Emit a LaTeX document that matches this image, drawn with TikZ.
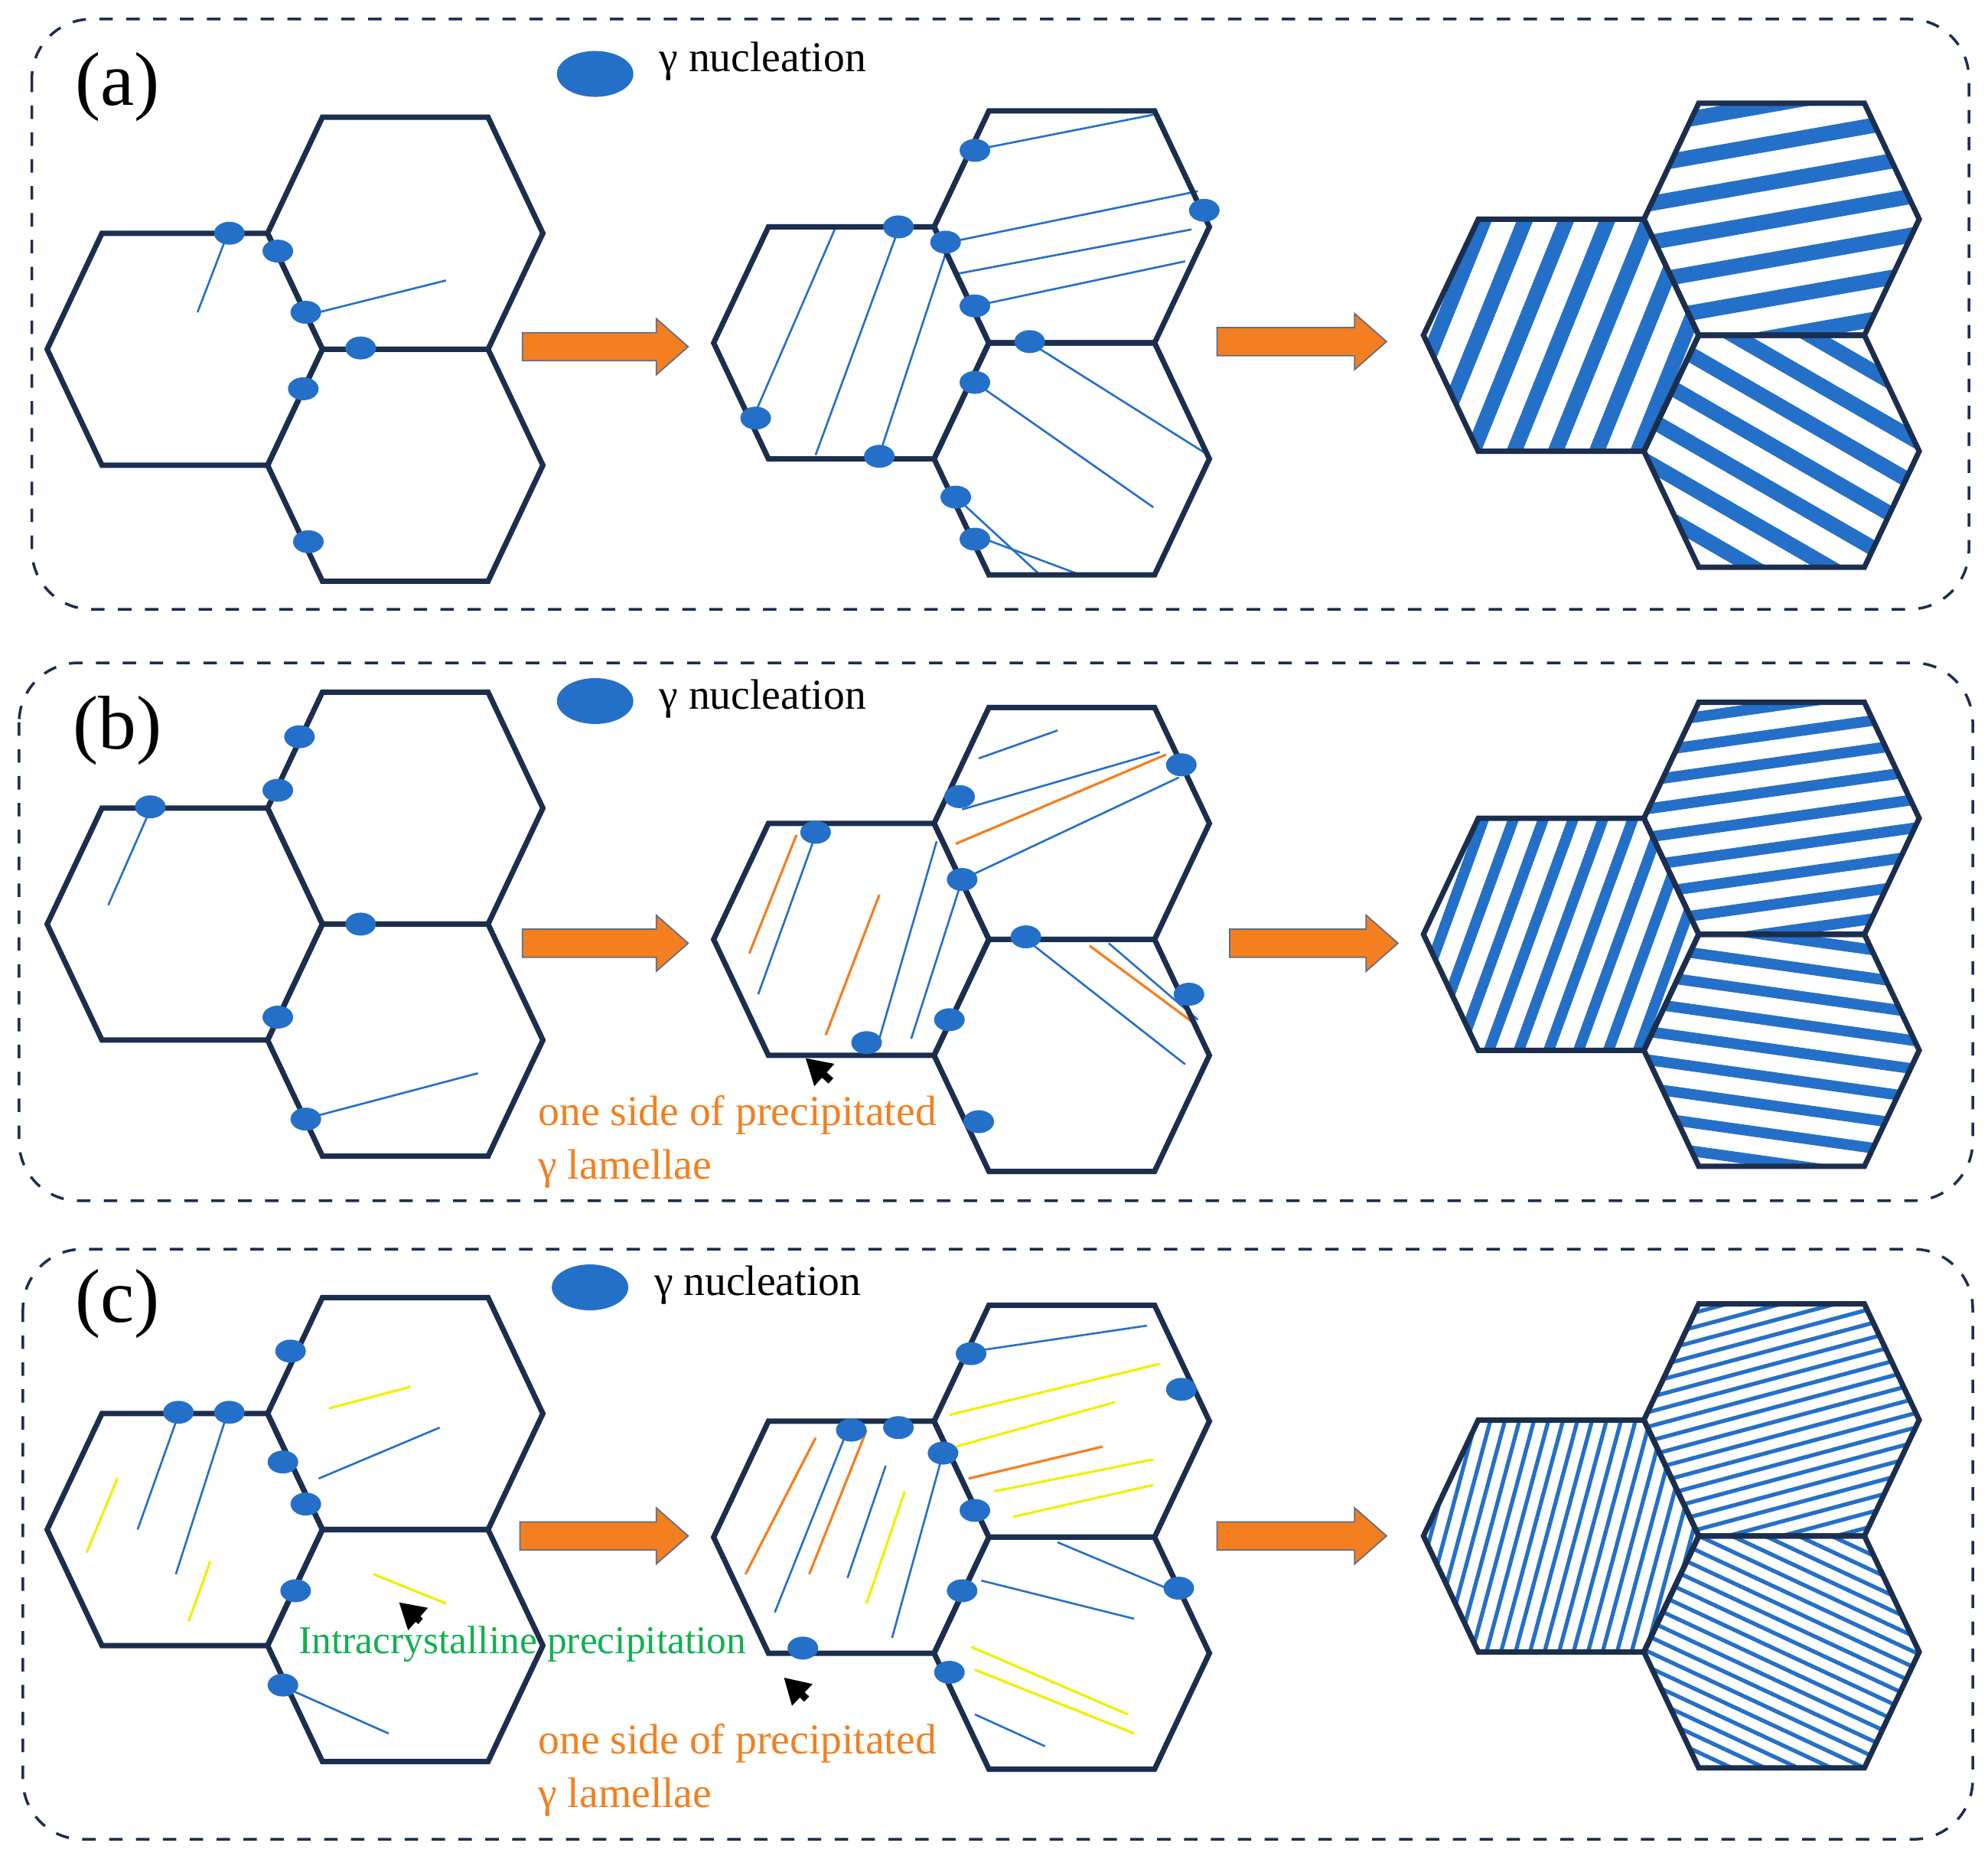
\documentclass[tikz,border=0pt]{standalone}
\usepackage{fontspec}
\setmainfont{Liberation Serif}
\usetikzlibrary{arrows.meta}
\definecolor{navy}{HTML}{1C2E4E}
\definecolor{gb}{HTML}{2470C8}
\definecolor{gor}{HTML}{F47F20}
\definecolor{gye}{HTML}{F0F000}
\definecolor{ggr}{HTML}{10B050}
\newcommand\hx[2]{({#1-108},{#2}) -- ({#1-65},{#2-91}) -- ({#1+65},{#2-91}) -- ({#1+108},{#2}) -- ({#1+65},{#2+91}) -- ({#1-65},{#2+91}) -- cycle}
% hatch: cx cy angle spacing width
\newcommand\hatch[5]{\begin{scope}\clip \hx{#1}{#2};
\foreach \k in {-40,...,40}{\pgfmathsetmacro\i{\k*#4}\draw[gb,line width=#5] ({#1+\i*sin(#3)-300*cos(#3)},{#2+\i*cos(#3)+300*sin(#3)}) -- ({#1+\i*sin(#3)+300*cos(#3)},{#2+\i*cos(#3)-300*sin(#3)});}
\end{scope}}
\newcommand\grp[2]{\draw[hexl] \hx{#1}{#2}; \draw[hexl] \hx{#1+173}{#2-91}; \draw[hexl] \hx{#1+173}{#2+91};}
\newcommand\nuc[2]{\fill[gb] (#1,#2) ellipse (12 and 9);}
\newcommand\barrow[3]{\draw[fill=gor,draw=navy!70,line width=0.3pt] (#1,{#3-11}) -- ({#2-25},{#3-11}) -- ({#2-25},{#3-22}) -- (#2,#3) -- ({#2-25},{#3+22}) -- ({#2-25},{#3+11}) -- (#1,{#3+11}) -- cycle;}
\tikzset{x=0.1mm,y=-0.1mm,
 hexl/.style={navy,line width=1.2pt,line join=miter},
 panel/.style={navy,dashed,line width=0.6pt,rounded corners=14mm/3},
 bl/.style={gb,line width=0.45pt}, ol/.style={gor,line width=0.55pt}, yl/.style={gye,line width=0.55pt},
 lbl/.style={font=\fontsize{17}{19}\selectfont},
 leg/.style={font=\fontsize{9.5}{11}\selectfont,anchor=west},
 note/.style={gor,font=\fontsize{9.5}{11}\selectfont,anchor=west},
 pt/.style={-{Triangle[length=2mm,width=2.2mm]},line width=1.6pt,black}}
\begin{document}
\begin{tikzpicture}
\useasboundingbox (0,0) rectangle (1560,1456);
% panels
\draw[panel] (25,15) rectangle (1545,478);
\draw[panel] (15,520) rectangle (1548,942);
\draw[panel] (18,980) rectangle (1548,1443);
\node[lbl] (la) at (92,68) {(a)};
\node[lbl] (lb) at (92,573) {(b)};
\node[lbl] (lc) at (92,1023) {(c)};
\fill[gb] (467,58) ellipse (30 and 18); \node[leg] (ga) at (505,48) {γ nucleation};
\fill[gb] (467,550) ellipse (30 and 18); \node[leg] (gbb) at (505,548) {γ nucleation};
\fill[gb] (463,1010) ellipse (30 and 18); \node[leg] (gc) at (501,1008) {γ nucleation};
% arrows
\barrow{410}{540}{272} \barrow{955}{1088}{268}
\barrow{410}{540}{740} \barrow{965}{1097}{740}
\barrow{408}{540}{1205} \barrow{955}{1088}{1205}
% ---------- (a)
\draw[bl] (155,245)--(178,185); \draw[bl] (250,245)--(350,220);
\grp{145}{274}
\foreach \p/\q in {180/183,218/197,240/245,283/273,238/305,242/425} {\nuc{\p}{\q}}
\draw[bl] (590,330)--(655,180); \draw[bl] (640,357)--(705,180); \draw[bl] (690,357)--(745,190);
\draw[bl] (763,118)--(905,90); \draw[bl] (745,190)--(940,150); \draw[bl] (750,215)--(935,180); \draw[bl] (765,240)--(930,205);
\draw[bl] (810,270)--(945,355); \draw[bl] (765,300)--(905,398); \draw[bl] (765,420)--(845,450); \draw[bl] (750,390)--(815,450);
\grp{668}{269}
\foreach \p/\q in {705/178,765/118,742/190,945/165,765/240,808/268,765/300,593/328,690/358,750/390,765/423} {\nuc{\p}{\q}}
\hatch{1225}{263}{68}{30}{3.4pt}
\hatch{1398}{172}{10}{30}{3.4pt}
\hatch{1398}{354}{-30}{30}{3.4pt}
\grp{1225}{263}
% ---------- (b)
\draw[bl] (85,710)--(118,635); \draw[bl] (250,875)--(375,842);
\grp{145}{725}
\foreach \p/\q in {118/633,235/578,218/620,283/725,218/798,240/878} {\nuc{\p}{\q}}
\draw[ol] (588,748)--(625,655); \draw[bl] (595,780)--(640,655); \draw[ol] (648,812)--(690,702);
\draw[bl] (690,815)--(735,660); \draw[bl] (715,815)--(755,690);
\draw[bl] (768,595)--(830,573); \draw[bl] (755,635)--(910,590); \draw[ol] (750,662)--(915,592); \draw[bl] (755,690)--(925,610);
\draw[bl] (805,737)--(930,835); \draw[bl] (870,740)--(940,800); \draw[ol] (855,742)--(940,805);
\grp{668}{737}
\foreach \p/\q in {640/653,753/625,927/600,755/690,805/735,933/780,680/818,745/800,768/880} {\nuc{\p}{\q}}
\hatch{1225}{733}{70}{22}{2.4pt}
\hatch{1398}{642}{8}{22}{2.4pt}
\hatch{1398}{824}{-8}{22}{2.4pt}
\grp{1225}{733}
\draw[pt] (652,848) -- (632,830);
\node[note] (n1) at (410,875) {one side of precipitated};
\node[note] (n2) at (410,917) {γ lamellae};
% ---------- (c)
\draw[yl] (258,1105)--(322,1088); \draw[bl] (250,1160)--(345,1120); \draw[bl] (108,1200)--(140,1110);
\draw[bl] (138,1235)--(178,1110); \draw[yl] (68,1218)--(92,1160); \draw[yl] (148,1272)--(165,1225);
\draw[yl] (293,1235)--(350,1258); \draw[bl] (215,1320)--(305,1360);
\grp{145}{1200}
\foreach \p/\q in {140/1108,180/1108,228/1060,222/1147,240/1180,232/1248,222/1322} {\nuc{\p}{\q}}
\draw[ol] (585,1235)--(640,1128); \draw[bl] (608,1265)--(665,1122); \draw[ol] (635,1235)--(680,1122);
\draw[bl] (665,1238)--(695,1150); \draw[yl] (680,1258)--(710,1170); \draw[bl] (700,1285)--(740,1140);
\draw[bl] (765,1060)--(900,1040); \draw[yl] (745,1110)--(910,1070); \draw[yl] (750,1135)--(875,1100);
\draw[ol] (760,1160)--(865,1135); \draw[yl] (780,1170)--(905,1145); \draw[yl] (795,1190)--(905,1165);
\draw[bl] (830,1210)--(925,1250); \draw[bl] (770,1240)--(890,1270); \draw[yl] (762,1292)--(885,1345);
\draw[yl] (765,1310)--(890,1360); \draw[bl] (765,1345)--(820,1370);
\grp{668}{1206}
\foreach \p/\q in {668/1122,705/1120,762/1062,927/1090,740/1140,765/1185,755/1248,925/1246,630/1293,745/1312} {\nuc{\p}{\q}}
\hatch{1225}{1205}{75}{11}{0.9pt}
\hatch{1398}{1114}{15}{11}{0.9pt}
\hatch{1398}{1296}{-25}{11}{0.9pt}
\grp{1225}{1205}
\draw[pt] (330,1272) -- (313,1257);
\node[ggr,font=\fontsize{8.8}{10}\selectfont,anchor=west] (n3) at (222,1290) {Intracrystalline precipitation};
\draw[pt] (633,1333) -- (615,1316);
\node[note] (n4) at (410,1368) {one side of precipitated};
\node[note] (n5) at (410,1410) {γ lamellae};
\end{tikzpicture}
\end{document}
